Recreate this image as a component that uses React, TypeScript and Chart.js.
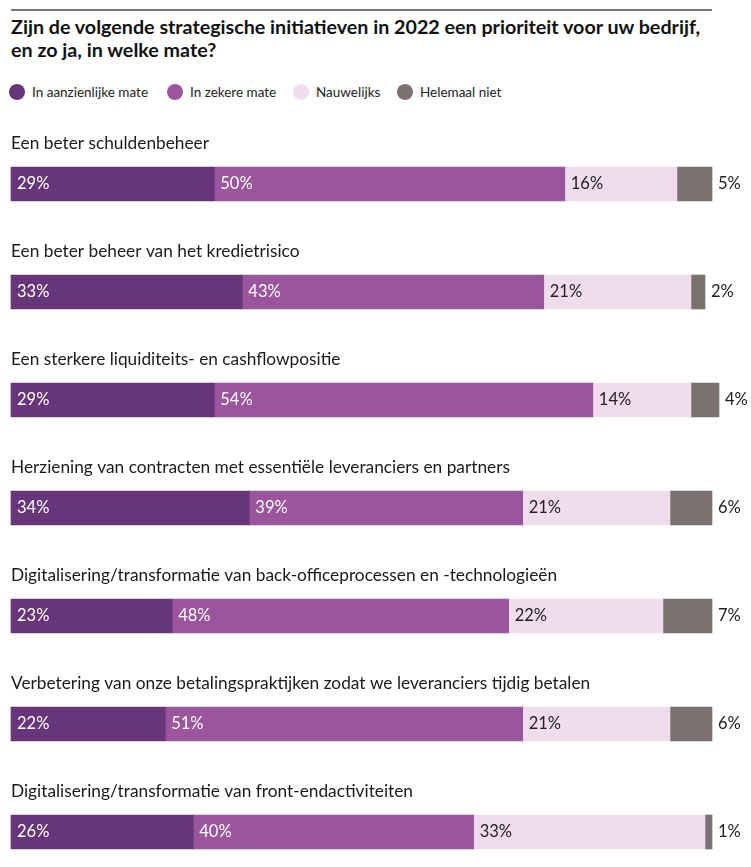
import React, { useEffect, useRef } from "react";
import { Chart, registerables } from "chart.js";

Chart.register(...registerables);

const categories = [
  "Een beter schuldenbeheer",
  "Een beter beheer van het kredietrisico",
  "Een sterkere liquiditeits- en cashflowpositie",
  "Herziening van contracten met essentiële leveranciers en partners",
  "Digitalisering/transformatie van back-officeprocessen en -technologieën",
  "Verbetering van onze betalingspraktijken zodat we leveranciers tijdig betalen",
  "Digitalisering/transformatie van front-endactiviteiten",
];

const seriesNames = ["In aanzienlijke mate", "In zekere mate", "Nauwelijks", "Helemaal niet"];
const aanzienlijk = [29, 33, 29, 34, 23, 22, 26];
const zekere = [50, 43, 54, 39, 48, 51, 40];
const nauwelijks = [16, 21, 14, 21, 22, 21, 33];
const helemaalNiet = [5, 2, 4, 6, 7, 6, 1];

const titleLines = [
  "Zijn de volgende strategische initiatieven in 2022 een prioriteit voor uw bedrijf,",
  "en zo ja, in welke mate?",
];

const colors = ["#673579", "#9a559c", "#f0dcec", "#7a7270"];
const labelColors = ["#ffffff", "#ffffff", "#222222", "#222222"];

const FONT = "Lato, 'Noto Sans', sans-serif";
const legendX = [9, 167, 293, 397];

export default function App() {
  const ref = useRef<HTMLCanvasElement | null>(null);

  useEffect(() => {
    const canvas = ref.current;
    if (!canvas) return;
    const labelPlugin = {
      id: "customLabels",
      afterDatasetsDraw(chart: any) {
        const ctx = chart.ctx;
        ctx.save();
        ctx.textBaseline = "middle";
        ctx.textAlign = "left";
        const meta0 = chart.getDatasetMeta(0);
        ctx.font = "17.3px " + FONT;
        ctx.fillStyle = "#1a1a1a";
        meta0.data.forEach((el: any, i: number) => {
          ctx.fillText(categories[i], chart.chartArea.left, el.y - 41);
        });
        ctx.font = "16.5px " + FONT;
        chart.data.datasets.forEach((ds: any, di: number) => {
          const meta = chart.getDatasetMeta(di);
          meta.data.forEach((el: any, i: number) => {
            const v = ds.data[i];
            const start = Math.min(el.base, el.x);
            const end = Math.max(el.base, el.x);
            ctx.fillStyle = labelColors[di];
            if (di === 3) {
              ctx.fillText(v + "%", end + 6, el.y);
            } else {
              ctx.fillText(v + "%", start + 6, el.y);
            }
          });
        });
        ctx.restore();
      },
    };

    const data = [aanzienlijk, zekere, nauwelijks, helemaalNiet];
    const chart = new Chart(canvas, {
      type: "bar",
      data: {
        labels: categories,
        datasets: data.map((d, i) => ({
          label: seriesNames[i],
          data: d,
          backgroundColor: colors[i],
          borderWidth: 0,
          barThickness: 34,
          clip: false as any,
        })),
      },
      options: {
        indexAxis: "y",
        responsive: false,
        animation: false,
        layout: { padding: { left: 11, right: 39, top: 130, bottom: 4 } },
        scales: {
          x: { stacked: true, min: 0, max: 100, display: false },
          y: { stacked: true, display: false },
        },
        plugins: {
          legend: { display: false },
          tooltip: { enabled: false },
          title: { display: false },
        },
      },
      plugins: [labelPlugin],
    });
    return () => chart.destroy();
  }, []);

  return (
    <div
      style={{
        position: "absolute",
        left: 0,
        top: 0,
        width: 751,
        height: 867,
        overflow: "hidden",
        background: "#fff",
      }}
    >
      <div
        style={{
          position: "absolute",
          left: 11,
          top: 9,
          width: 701,
          height: 2,
          background: "#767676",
        }}
      />
      {titleLines.map((t, i) => (
        <div
          key={i}
          style={{
            position: "absolute",
            left: 11,
            top: 15 + i * 23,
            whiteSpace: "nowrap",
            fontFamily: FONT,
            fontWeight: "bold",
            fontSize: 19.7,
            lineHeight: "24px",
            color: "#111",
          }}
        >
          {t}
        </div>
      ))}
      {seriesNames.map((n, i) => (
        <div
          key={n}
          style={{
            position: "absolute",
            left: legendX[i],
            top: 83,
            height: 17,
            display: "flex",
            alignItems: "center",
            whiteSpace: "nowrap",
            fontFamily: FONT,
            fontSize: 13.5,
            color: "#222",
          }}
        >
          <span
            style={{
              display: "inline-block",
              width: 16,
              height: 16,
              borderRadius: "50%",
              background: colors[i],
              marginRight: 7,
            }}
          />
          <span>{n}</span>
        </div>
      ))}
      <canvas
        ref={ref}
        width={751}
        height={890}
        style={{ position: "absolute", left: 0, top: 0, width: 751, height: 890 }}
      />
    </div>
  );
}
